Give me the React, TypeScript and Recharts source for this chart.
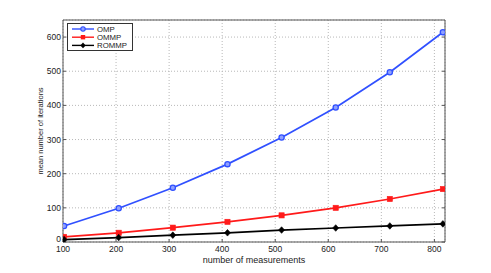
import React from 'react';
import { LineChart, Line, XAxis, YAxis, CartesianGrid, Legend } from 'recharts';

const measurements = [102, 205, 307, 410, 512, 614, 716, 816];
const ompIter = [47, 99, 159, 228, 306, 394, 497, 614];
const ommpIter = [15, 27, 42, 59, 78, 100, 126, 155];
const rommpIter = [7, 13, 20, 27, 35, 41, 47, 53];
const xTicks = [100, 200, 300, 400, 500, 600, 700, 800];
const yTicks = [0, 100, 200, 300, 400, 500, 600];
const seriesNames = ['OMP', 'OMMP', 'ROMMP'];

const data = measurements.map((m, i) => ({
  m,
  omp: ompIter[i],
  ommp: ommpIter[i],
  rommp: rommpIter[i],
}));

const BLUE = '#3050ff';
const RED = '#ff1a1a';
const BLACK = '#000000';
const FONT = 'Liberation Sans, Arial, sans-serif';

const tickStyle = { fontSize: 8.5, fill: '#222', fontFamily: FONT };

const YTick = (p: any) => {
  const v = p.payload.value;
  return (
    <text x={p.x} y={p.y} dy={v === 0 ? -0.5 : 3} textAnchor="end" fontSize={8.5} fill="#222" fontFamily={FONT}>
      {v}
    </text>
  );
};

const CircleDot = (p: any) => (
  <circle key={`c${p.index}`} cx={p.cx} cy={p.cy} r={2.6} fill="#8fa0ff" stroke={BLUE} strokeWidth={1.3} />
);
const SquareDot = (p: any) => (
  <rect key={`s${p.index}`} x={p.cx - 2.6} y={p.cy - 2.6} width={5.2} height={5.2} fill={RED} stroke={RED} strokeWidth={0.6} />
);
const DiamondDot = (p: any) => (
  <path key={`d${p.index}`} d={`M${p.cx},${p.cy - 3.3}L${p.cx + 3},${p.cy}L${p.cx},${p.cy + 3.3}L${p.cx - 3},${p.cy}Z`} fill={BLACK} stroke={BLACK} strokeWidth={0.6} />
);

const LegendBox = () => {
  const colors = [BLUE, RED, BLACK];
  return (
    <div style={{ width: 66, height: 28, border: '1px solid #333', background: '#fff', boxSizing: 'border-box' }}>
      <svg width={64} height={26} style={{ display: 'block' }}>
        {seriesNames.map((n, i) => {
          const y = 5 + i * 8.2;
          const cx = 15;
          return (
            <g key={n}>
              <line x1={4} x2={26} y1={y} y2={y} stroke={colors[i]} strokeWidth={1.4} />
              {i === 0 && <circle cx={cx} cy={y} r={2.2} fill="#8fa0ff" stroke={BLUE} strokeWidth={1.1} />}
              {i === 1 && <rect x={cx - 2.2} y={y - 2.2} width={4.4} height={4.4} fill={RED} />}
              {i === 2 && <path d={`M${cx},${y - 2.8}L${cx + 2.6},${y}L${cx},${y + 2.8}L${cx - 2.6},${y}Z`} fill={BLACK} />}
              <text x={29} y={y + 2.8} fontSize={7.8} fontFamily={FONT} fill="#222">{n}</text>
            </g>
          );
        })}
      </svg>
    </div>
  );
};

export default function App() {
  return (
    <div style={{ position: 'absolute', left: 0, top: 0, width: 491, height: 273, background: '#fff' }}>
      <LineChart width={491} height={273} data={data} margin={{ top: 19, right: 45, bottom: 17, left: 33 }}>
        <CartesianGrid stroke="#b8b8b8" strokeDasharray="1 2" vertical horizontal />
        <XAxis
          dataKey="m"
          type="number"
          domain={[100, 820]}
          ticks={xTicks}
          height={14}
          tick={tickStyle}
          tickSize={-3}
          tickMargin={7}
          axisLine={{ stroke: '#555' }}
          tickLine={{ stroke: '#555' }}
          allowDataOverflow
          label={{ value: 'number of measurements', position: 'insideBottom', offset: -7, fontSize: 9, fill: '#222', fontFamily: FONT }}
        />
        <XAxis
          xAxisId="top"
          orientation="top"
          type="number"
          domain={[100, 820]}
          ticks={xTicks}
          height={1}
          tick={() => <g />}
          tickSize={-3}
          axisLine={{ stroke: '#555' }}
          tickLine={{ stroke: '#555' }}
          allowDataOverflow
        />
        <YAxis
          type="number"
          domain={[0, 650]}
          ticks={yTicks}
          width={30}
          tick={YTick}
          tickSize={-3}
          tickMargin={5}
          axisLine={{ stroke: '#555' }}
          tickLine={{ stroke: '#555' }}
          allowDataOverflow
          label={{ value: 'mean number of iterations', angle: -90, position: 'insideLeft', offset: 7, fontSize: 7.5, fill: '#222', fontFamily: FONT, style: { textAnchor: 'middle' } }}
        />
        <YAxis
          yAxisId="right"
          orientation="right"
          type="number"
          domain={[0, 650]}
          ticks={yTicks}
          width={1}
          tick={() => <g />}
          tickSize={-3}
          axisLine={{ stroke: '#555' }}
          tickLine={{ stroke: '#555' }}
          allowDataOverflow
        />
        <Legend
          layout="vertical"
          align="center"
          verticalAlign="middle"
          content={() => <LegendBox />}
          wrapperStyle={{ position: 'absolute', left: 67, top: 23, width: 66, height: 28 }}
        />
        <Line dataKey="omp" name="OMP" stroke={BLUE} strokeWidth={1.7} dot={CircleDot} isAnimationActive={false} />
        <Line dataKey="ommp" name="OMMP" stroke={RED} strokeWidth={1.7} dot={SquareDot} isAnimationActive={false} />
        <Line dataKey="rommp" name="ROMMP" stroke={BLACK} strokeWidth={1.7} dot={DiamondDot} isAnimationActive={false} />
      </LineChart>
    </div>
  );
}
